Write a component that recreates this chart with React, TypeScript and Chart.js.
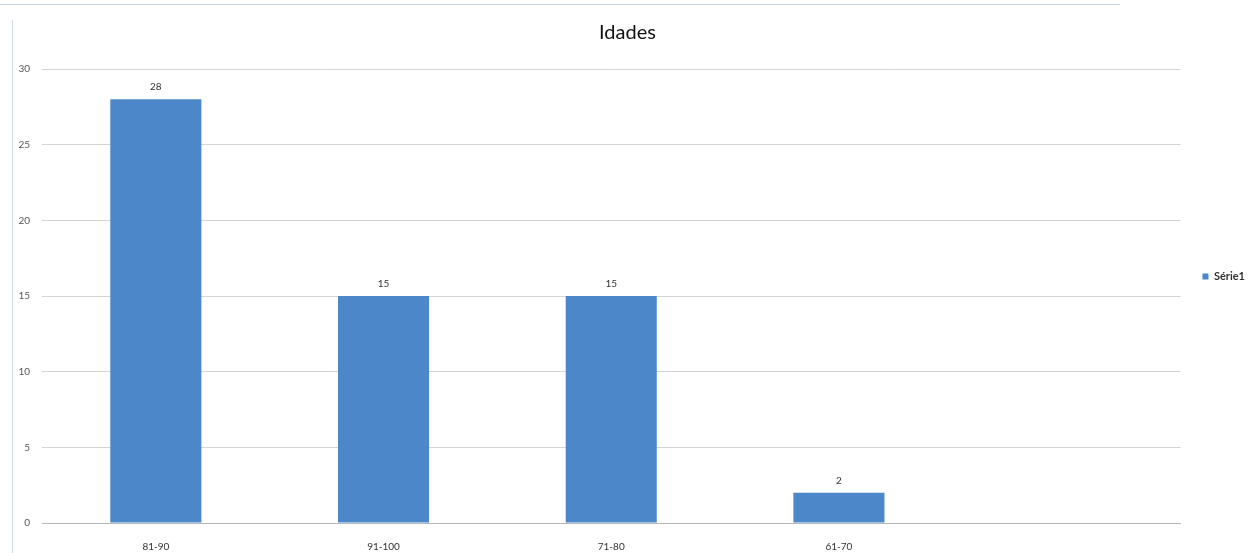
import React, { useEffect, useRef } from "react";
import { Chart, registerables } from "chart.js";

Chart.register(...registerables);

const categories = ["81-90", "91-100", "71-80", "61-70", ""];
const values: (number | null)[] = [28, 15, 15, 2, null];
const yTicks = [0, 5, 10, 15, 20, 25, 30];
const seriesName = "Série1";
const titleText = "Idades";

const FONT = "Lato, 'Open Sans', sans-serif";

const valueLabels = {
  id: "valueLabels",
  afterDatasetsDraw(chart: any) {
    const { ctx } = chart;
    const meta = chart.getDatasetMeta(0);
    ctx.save();
    ctx.font = `10px ${FONT}`;
    ctx.fillStyle = "#333";
    ctx.textAlign = "center";
    ctx.textBaseline = "middle";
    meta.data.forEach((bar: any, i: number) => {
      const v = values[i];
      if (v == null) return;
      ctx.fillText(String(v), bar.x, bar.y - 12);
    });
    ctx.restore();
  },
};

const frame = {
  id: "frame",
  beforeDraw(chart: any) {
    const { ctx } = chart;
    ctx.save();
    ctx.strokeStyle = "#cdd7e6";
    ctx.lineWidth = 1;
    ctx.beginPath();
    ctx.moveTo(12.5, 20);
    ctx.lineTo(12.5, 553);
    ctx.moveTo(0, 4.5);
    ctx.lineTo(1120, 4.5);
    ctx.stroke();
    ctx.restore();
  },
};

export default function App() {
  const ref = useRef<HTMLCanvasElement | null>(null);

  useEffect(() => {
    document.body.style.margin = "0";
    const chart = new Chart(ref.current as HTMLCanvasElement, {
      type: "bar",
      data: {
        labels: categories,
        datasets: [
          {
            label: seriesName,
            data: values,
            backgroundColor: "#4c87c9",
            borderWidth: 0,
            barPercentage: 0.4,
            categoryPercentage: 1,
          },
        ],
      },
      options: {
        animation: false,
        responsive: false,
        maintainAspectRatio: false,
        layout: { padding: { left: 0, right: 0, top: 0, bottom: 0 } },
        plugins: {
          title: {
            display: true,
            text: titleText,
            color: "#111",
            font: { family: FONT, size: 20, weight: "normal" },
            padding: { top: 21, bottom: 24 },
          },
          legend: {
            display: true,
            position: "right",
            labels: {
              boxWidth: 6,
              boxHeight: 6,
              padding: 22,
              color: "#333",
              font: { family: FONT, size: 11, weight: "bold" },
            },
          },
          tooltip: { enabled: false },
        },
        scales: {
          x: {
            grid: { display: false },
            border: { display: true, color: "#b8b8b8" },
            ticks: {
              color: "#333",
              font: { family: FONT, size: 10 },
              padding: 10,
              maxRotation: 0,
            },
            afterFit(scale: any) {
              scale.height = 30;
            },
          },
          y: {
            min: 0,
            max: 30,
            afterBuildTicks(scale: any) {
              scale.ticks = yTicks.map((v) => ({ value: v }));
            },
            grid: { color: "#d4d4d4", drawTicks: false },
            border: { display: false },
            ticks: {
              color: "#555",
              font: { family: FONT, size: 10 },
              padding: 12,
            },
            afterFit(scale: any) {
              scale.width = 42;
            },
          },
        },
      },
      plugins: [valueLabels, frame],
    });
    return () => chart.destroy();
  }, []);

  return <canvas ref={ref} width={1255} height={553} style={{ display: "block" }} />;
}
